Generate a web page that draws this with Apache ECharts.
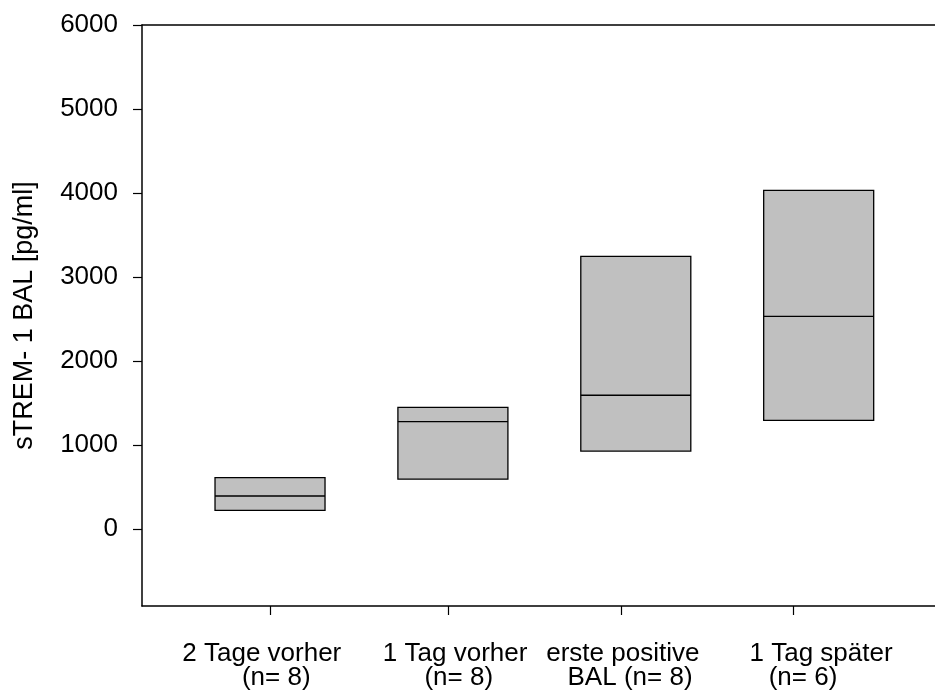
<!DOCTYPE html>
<html>
<head>
<meta charset="utf-8">
<script src="https://cdn.jsdelivr.net/npm/echarts@6/dist/echarts.min.js"></script>
<style>html,body{margin:0;padding:0;background:#fff;}#c{width:935px;height:693px;}</style>
</head>
<body>
<div id="c"></div>
<script>
// ---- data ----
const labelLine1 = ['2 Tage vorher', '1 Tag vorher', 'erste positive', '1 Tag später'];
const labelLine2 = ['(n= 8)', '(n= 8)', 'BAL (n= 8)', '(n= 6)'];
const q1Values = [220, 590, 925, 1290];
const medianValues = [390, 1275, 1590, 2530];
const q3Values = [610, 1445, 3245, 4030];
const yTickValues = [0, 1000, 2000, 3000, 4000, 5000, 6000];
const yAxisTitle = 'sTREM- 1 BAL [pg/ml]';

// ---- layout (positions on the x value axis) ----
const boxPos = [1, 2, 3, 4];
const tickPos = [1.0, 1.975, 2.918, 3.862];
const labelPos = [0.955, 2.012, 2.929, 4.013];
const line2Shift = [4, 1, 2, -5];

function pad(s, n) {
  if (n > 0) return ' '.repeat(n) + s;
  if (n < 0) return s + ' '.repeat(-n);
  return s;
}

const boxData = boxPos.map((p, i) => [p, q1Values[i], medianValues[i], q3Values[i]]);

const chart = echarts.init(document.getElementById('c'), null, {renderer: 'canvas'});
const font = 'Liberation Sans, Arial, Helvetica, sans-serif';

chart.setOption({
  animation: false,
  backgroundColor: '#fff',
  grid: {left: 142, right: 0, top: 25, bottom: 87, containLabel: false},
  xAxis: [{
    type: 'value',
    min: 0.3,
    max: 4.636,
    position: 'bottom',
    axisLine: {show: true, onZero: false, lineStyle: {color: '#000', width: 1.5}},
    splitLine: {show: false},
    axisTick: {show: true, inside: false, length: 9, customValues: tickPos, lineStyle: {color: '#000', width: 1.2}},
    axisLabel: {
      show: true,
      customValues: labelPos,
      margin: 36,
      fontFamily: font,
      fontSize: 26,
      lineHeight: 24,
      color: '#000',
      align: 'center',
      formatter: function (v) {
        let idx = 0, best = Infinity;
        labelPos.forEach((p, i) => { const d = Math.abs(p - v); if (d < best) { best = d; idx = i; } });
        return labelLine1[idx] + '\n' + pad(labelLine2[idx], line2Shift[idx]);
      }
    }
  }, {
    type: 'value',
    min: 0.3,
    max: 4.636,
    position: 'top',
    axisLine: {show: true, onZero: false, lineStyle: {color: '#000', width: 1.5}},
    axisTick: {show: false},
    axisLabel: {show: false},
    splitLine: {show: false}
  }],
  yAxis: {
    type: 'value',
    min: -920,
    max: 6000,
    name: yAxisTitle,
    nameLocation: 'middle',
    nameGap: 104,
    nameTextStyle: {fontFamily: font, fontSize: 27, color: '#000'},
    axisLine: {show: true, onZero: false, lineStyle: {color: '#000', width: 1.5}},
    splitLine: {show: false},
    axisTick: {show: true, inside: false, length: 9, customValues: yTickValues, lineStyle: {color: '#000', width: 1.2}},
    axisLabel: {
      show: true,
      customValues: yTickValues,
      margin: 24,
      fontFamily: font,
      fontSize: 26,
      color: '#000',
      formatter: function (v) { return String(v); }
    }
  },
  series: [{
    type: 'custom',
    xAxisIndex: 0,
    data: boxData,
    renderItem: function (params, api) {
      const x = api.value(0);
      const lo = api.coord([x, api.value(1)]);
      const med = api.coord([x, api.value(2)]);
      const hi = api.coord([x, api.value(3)]);
      const w = api.size([0.6015, 0])[0];
      const left = lo[0] - w / 2;
      return {
        type: 'group',
        children: [{
          type: 'rect',
          shape: {x: left, y: hi[1], width: w, height: lo[1] - hi[1]},
          style: {fill: '#c0c0c0', stroke: '#000', lineWidth: 1.3}
        }, {
          type: 'line',
          shape: {x1: left, y1: med[1], x2: left + w, y2: med[1]},
          style: {stroke: '#000', lineWidth: 1.3}
        }]
      };
    }
  }]
});
</script>
</body>
</html>
